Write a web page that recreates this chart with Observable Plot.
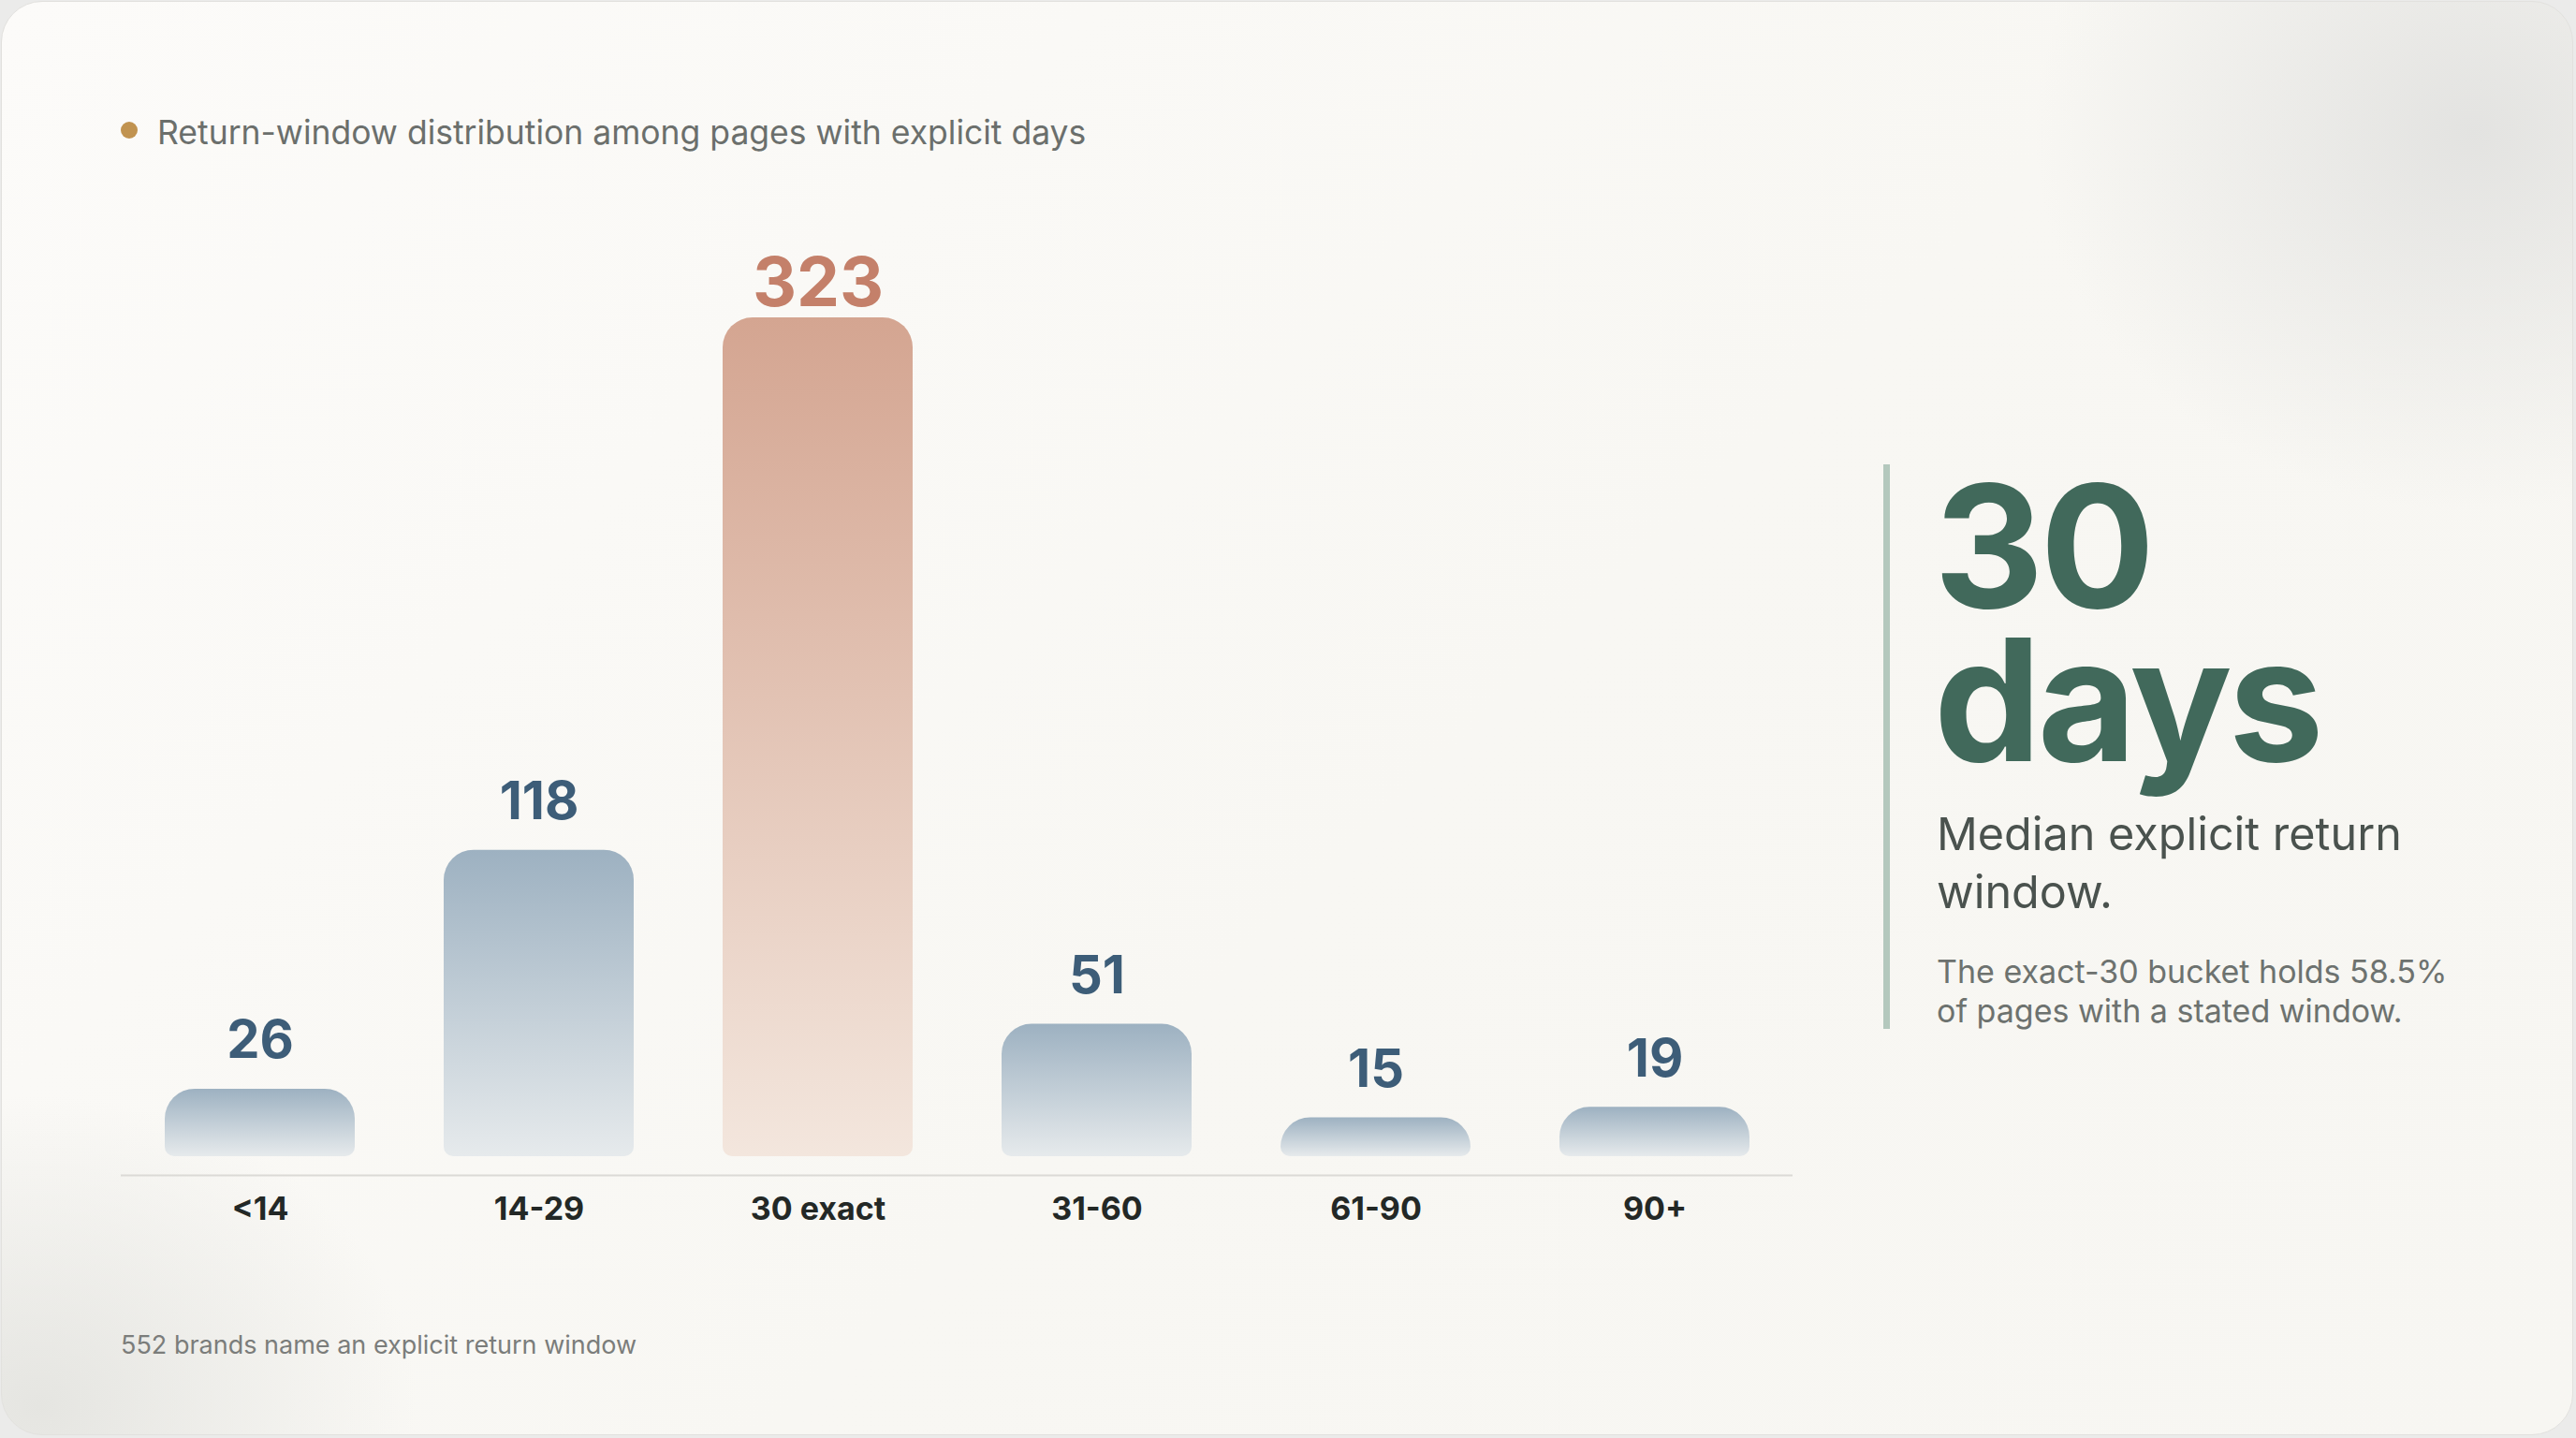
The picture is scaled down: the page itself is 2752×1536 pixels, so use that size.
<!DOCTYPE html>
<html><head><meta charset="utf-8">
<script src="https://cdn.jsdelivr.net/npm/d3@7"></script>
<script src="https://cdn.jsdelivr.net/npm/@observablehq/plot@0.6"></script>
<style>
html,body{margin:0;padding:0;width:2752px;height:1536px;overflow:hidden;background:#ebebea;font-family:Inter,"Noto Sans",sans-serif;}
#card{position:absolute;left:1px;top:1px;width:2748px;height:1532px;border-radius:44px;border:1px solid #e2e1de;overflow:hidden;box-sizing:border-box;
background:
 radial-gradient(ellipse 650px 560px at 2640px 140px, rgba(226,226,224,0.95), rgba(226,226,224,0) 72%),
 radial-gradient(ellipse 560px 460px at 40px 1500px, rgba(228,228,224,0.95), rgba(228,228,224,0) 72%),
 linear-gradient(135deg,#fcfbf9 0%,#f8f7f3 55%,#f7f6f2 100%);}
#title{position:absolute;left:166px;top:118px;font-size:35.5px;line-height:44px;color:#6b6f6c;white-space:nowrap;}
#dot{position:absolute;left:127px;top:128px;width:18px;height:18px;border-radius:50%;background:#c19350;}
#chart{position:absolute;left:-3px;top:200px;}
#caption{position:absolute;left:127px;top:1418px;font-size:27px;line-height:34px;color:#7b7d7b;white-space:nowrap;}
#vline{position:absolute;left:2010px;top:494px;width:7px;height:603px;background:#b4c8bd;}
.big{position:absolute;left:2064px;height:164px;font-size:182px;line-height:164px;font-weight:700;color:#41695b;letter-spacing:-4px;white-space:nowrap;}
#big1{top:499px;}
#big2{top:663px;}
#median{position:absolute;left:2067px;top:858px;font-size:48.5px;line-height:62px;color:#4a524e;white-space:nowrap;}
#note{position:absolute;left:2067px;top:1015px;font-size:34px;line-height:42px;color:#6d726f;white-space:nowrap;}
</style></head>
<body>
<div id="card">
  <div id="dot"></div>
  <div id="title">Return-window distribution among pages with explicit days</div>
  <div id="chart"></div>
  <div id="caption">552 brands name an explicit return window</div>
  <div id="vline"></div>
  <div class="big" id="big1">30</div>
  <div class="big" id="big2">days</div>
  <div id="median">Median explicit return<br>window.</div>
  <div id="note">The exact-30 bucket holds 58.5%<br>of pages with a stated window.</div>
</div>
<script>
const categories = ["<14", "14-29", "30 exact", "31-60", "61-90", "90+"];
const counts = [26, 118, 323, 51, 15, 19];
const highlightCategory = "30 exact";

const rows = categories.map((c, i) => ({category: c, count: counts[i]}));
const isHi = d => d.category === highlightCategory;

const defs = () => {
  const el = d3.create("svg:defs");
  const gb = el.append("linearGradient").attr("id", "gradBlue").attr("x1", 0).attr("y1", 0).attr("x2", 0).attr("y2", 1);
  gb.append("stop").attr("offset", "0%").attr("stop-color", "#9db1c1");
  gb.append("stop").attr("offset", "100%").attr("stop-color", "#e6eaec");
  const go = el.append("linearGradient").attr("id", "gradOrange").attr("x1", 0).attr("y1", 0).attr("x2", 0).attr("y2", 1);
  go.append("stop").attr("offset", "0%").attr("stop-color", "#d4a591");
  go.append("stop").attr("offset", "100%").attr("stop-color", "#f3e6dd");
  return el.node();
};

const chart = Plot.plot({
  width: 2000,
  height: 1150,
  marginTop: 137,
  marginBottom: 117,
  marginLeft: 130,
  marginRight: 84,
  x: {domain: categories, paddingInner: 0.32, paddingOuter: 0.155, axis: null},
  y: {domain: [0, 323], axis: null},
  style: {background: "transparent", overflow: "visible", fontFamily: "Inter, 'Noto Sans', sans-serif"},
  marks: [
    defs,
    Plot.ruleY([0], {dy: 20, stroke: "#dbdad6", strokeWidth: 2}),
    Plot.barY(rows.filter(d => !isHi(d)), {x: "category", y: "count", fill: "url(#gradBlue)", ry1: 32, ry2: 10}),
    Plot.barY(rows.filter(isHi), {x: "category", y: "count", fill: "url(#gradOrange)", ry1: 32, ry2: 10}),
    Plot.text(rows.filter(d => !isHi(d)), {x: "category", y: "count", text: d => String(d.count), lineAnchor: "bottom", dy: -33, fontSize: 56, fontWeight: 700, fill: "#3d5d78"}),
    Plot.text(rows.filter(isHi), {x: "category", y: "count", text: d => String(d.count), lineAnchor: "bottom", dy: -13, fontSize: 73, fontWeight: 700, fill: "#c4806a"}),
    Plot.text(categories, {x: d => d, frameAnchor: "bottom", lineAnchor: "middle", dy: 57, text: d => d, fontSize: 34, fontWeight: 700, fill: "#232826"})
  ]
});
document.getElementById("chart").appendChild(chart);
</script>
</body></html>
